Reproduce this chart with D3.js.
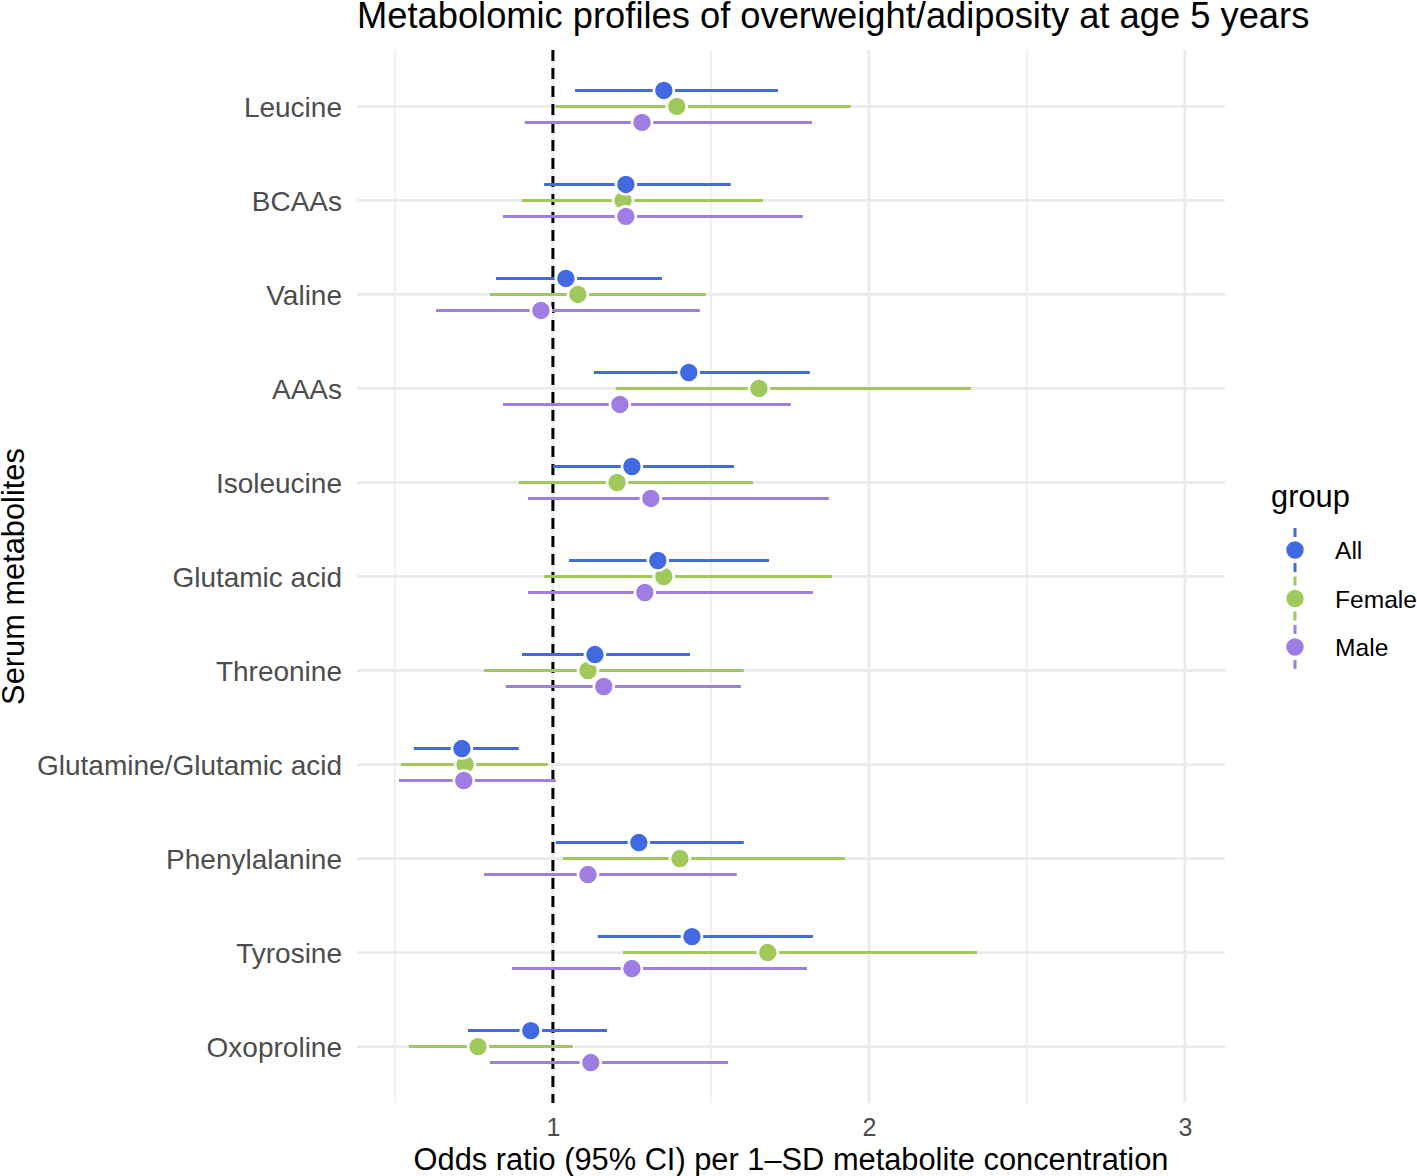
<!DOCTYPE html>
<html>
<head>
<meta charset="utf-8">
<script src="https://cdn.jsdelivr.net/npm/d3@7"></script>
<style>
  html, body { margin: 0; padding: 0; background: #fff; }
  svg { display: block; font-family: "Liberation Sans", Arial, Helvetica, sans-serif; }
</style>
</head>
<body>
<svg id="chart" width="1417" height="1176"></svg>
<script>
// ---------- DATA ----------
const metabolites = ["Leucine", "BCAAs", "Valine", "AAAs", "Isoleucine", "Glutamic acid",
  "Threonine", "Glutamine/Glutamic acid", "Phenylalanine", "Tyrosine", "Oxoproline"];
const groups = ["All", "Female", "Male"];
const groupColors = ["#4169E1", "#A0C95C", "#A07DE3"];

// odds ratio, lower CI, upper CI per metabolite (same order as metabolites)
const allOR    = [1.351, 1.231, 1.041, 1.430, 1.250, 1.332, 1.133, 0.712, 1.272, 1.440, 0.930];
const allLo    = [1.070, 0.972, 0.820, 1.130, 1.000, 1.051, 0.902, 0.560, 1.009, 1.142, 0.731];
const allHi    = [1.712, 1.563, 1.345, 1.813, 1.573, 1.684, 1.434, 0.892, 1.604, 1.823, 1.171];

const femaleOR = [1.392, 1.222, 1.079, 1.652, 1.203, 1.351, 1.111, 0.722, 1.402, 1.680, 0.763];
const femaleLo = [1.009, 0.902, 0.801, 1.199, 0.892, 0.972, 0.782, 0.519, 1.032, 1.222, 0.544];
const femaleHi = [1.943, 1.665, 1.484, 2.323, 1.633, 1.883, 1.604, 0.984, 1.924, 2.342, 1.063];

const maleOR   = [1.282, 1.231, 0.962, 1.212, 1.310, 1.291, 1.161, 0.718, 1.111, 1.250, 1.120];
const maleLo   = [0.911, 0.842, 0.630, 0.842, 0.921, 0.921, 0.851, 0.513, 0.782, 0.870, 0.801];
const maleHi   = [1.820, 1.791, 1.465, 1.753, 1.873, 1.823, 1.595, 1.009, 1.582, 1.804, 1.554];

const xTicks = [1, 2, 3];
const xMinor = [0.5, 1.5, 2.5];

const titleText = "Metabolomic profiles of overweight/adiposity at age 5 years";
const xTitle = "Odds ratio (95% CI) per 1\u2013SD metabolite concentration";
const yTitle = "Serum metabolites";
const legendTitle = "group";

// ---------- BUILD ROWS ----------
const seriesOR = [allOR, femaleOR, maleOR];
const seriesLo = [allLo, femaleLo, maleLo];
const seriesHi = [allHi, femaleHi, maleHi];
const rows = [];
groups.forEach((g, gi) => {
  metabolites.forEach((m, mi) => {
    rows.push({ group: g, gi, metabolite: m, or: seriesOR[gi][mi], lo: seriesLo[gi][mi], hi: seriesHi[gi][mi] });
  });
});

// ---------- LAYOUT ----------
const panel = { left: 357, right: 1225, top: 50, bottom: 1103 };
const svg = d3.select("#chart");

const x = d3.scaleLinear().domain([0.38, 3.127]).range([panel.left, panel.right]);
const y = d3.scalePoint().domain(metabolites).range([panel.top, panel.bottom]).padding(0.6);
const dodge = y.step() * 0.17;
const color = d3.scaleOrdinal().domain(groups).range(groupColors);
const offset = d3.scaleOrdinal().domain(groups).range([-dodge, 0, dodge]);

// ---------- GRID ----------
const grid = svg.append("g");
grid.selectAll("line.minor").data(xMinor).join("line")
  .attr("x1", d => x(d)).attr("x2", d => x(d))
  .attr("y1", panel.top).attr("y2", panel.bottom)
  .attr("stroke", "#ebebeb").attr("stroke-width", 1.5);
grid.selectAll("line.major").data(xTicks).join("line")
  .attr("x1", d => x(d)).attr("x2", d => x(d))
  .attr("y1", panel.top).attr("y2", panel.bottom)
  .attr("stroke", "#ebebeb").attr("stroke-width", 2.8);
grid.selectAll("line.hmaj").data(metabolites).join("line")
  .attr("x1", panel.left).attr("x2", panel.right)
  .attr("y1", d => y(d)).attr("y2", d => y(d))
  .attr("stroke", "#ebebeb").attr("stroke-width", 2.8);

// ---------- AXES ----------
const xAxis = svg.append("g")
  .attr("transform", `translate(0,${panel.bottom})`)
  .call(d3.axisBottom(x).tickValues(xTicks).tickSize(0).tickPadding(15).tickFormat(d3.format("d")));
xAxis.select(".domain").remove();
xAxis.selectAll("text").attr("fill", "#4d4d4d").attr("font-size", 25).attr("font-family", "Liberation Sans, Arial, sans-serif");

const yAxis = svg.append("g")
  .attr("transform", `translate(${panel.left - 15},0)`)
  .call(d3.axisLeft(y).tickSize(0).tickPadding(0));
yAxis.select(".domain").remove();
yAxis.selectAll("text").attr("fill", "#4d4d4d").attr("font-size", 28).attr("dy", "0.35em")
  .attr("font-family", "Liberation Sans, Arial, sans-serif");

// ---------- REFERENCE LINE ----------
svg.append("line")
  .attr("x1", x(1)).attr("x2", x(1))
  .attr("y1", panel.top).attr("y2", panel.bottom)
  .attr("stroke", "#000").attr("stroke-width", 3).attr("stroke-dasharray", "11,7");

// ---------- ERROR BARS & POINTS ----------
const marks = svg.append("g");
marks.selectAll("line.ci").data(rows).join("line")
  .attr("x1", d => x(d.lo)).attr("x2", d => x(d.hi))
  .attr("y1", d => y(d.metabolite) + offset(d.group))
  .attr("y2", d => y(d.metabolite) + offset(d.group))
  .attr("stroke", d => color(d.group)).attr("stroke-width", 3);

const pointOrder = ["Female", "All", "Male"];
const sortedRows = rows.slice().sort((a, b) => pointOrder.indexOf(a.group) - pointOrder.indexOf(b.group));
marks.selectAll("circle.pt").data(sortedRows).join("circle")
  .attr("cx", d => x(d.or))
  .attr("cy", d => y(d.metabolite) + offset(d.group))
  .attr("r", 10)
  .attr("fill", d => color(d.group))
  .attr("stroke", "#fff").attr("stroke-width", 2.6);

// ---------- TITLES ----------
svg.append("text").attr("x", panel.left).attr("y", 28)
  .attr("font-size", 36.3).attr("fill", "#000").text(titleText);

svg.append("text").attr("x", (panel.left + panel.right) / 2).attr("y", 1170)
  .attr("text-anchor", "middle").attr("font-size", 30.8).attr("fill", "#000").text(xTitle);

svg.append("text")
  .attr("transform", `translate(24,${(panel.top + panel.bottom) / 2}) rotate(-90)`)
  .attr("text-anchor", "middle").attr("font-size", 30.8).attr("fill", "#000").text(yTitle);

// ---------- LEGEND ----------
const legend = svg.append("g");
legend.append("text").attr("x", 1271).attr("y", 507).attr("font-size", 30.8).attr("fill", "#000").text(legendTitle);
const keyY = d3.scalePoint().domain(groups).range([550, 647]);
const keys = legend.selectAll("g.key").data(groups).join("g")
  .attr("transform", d => `translate(1295,${keyY(d)})`);
keys.append("line").attr("x1", 0).attr("x2", 0).attr("y1", -22).attr("y2", 22)
  .attr("stroke", d => color(d)).attr("stroke-width", 3).attr("stroke-dasharray", "9,26,9");
keys.append("circle").attr("r", 10).attr("fill", d => color(d)).attr("stroke", "#fff").attr("stroke-width", 2.6);
keys.append("text").attr("x", 40).attr("y", 9).attr("font-size", 24.6).attr("fill", "#000").text(d => d);
</script>
</body>
</html>
